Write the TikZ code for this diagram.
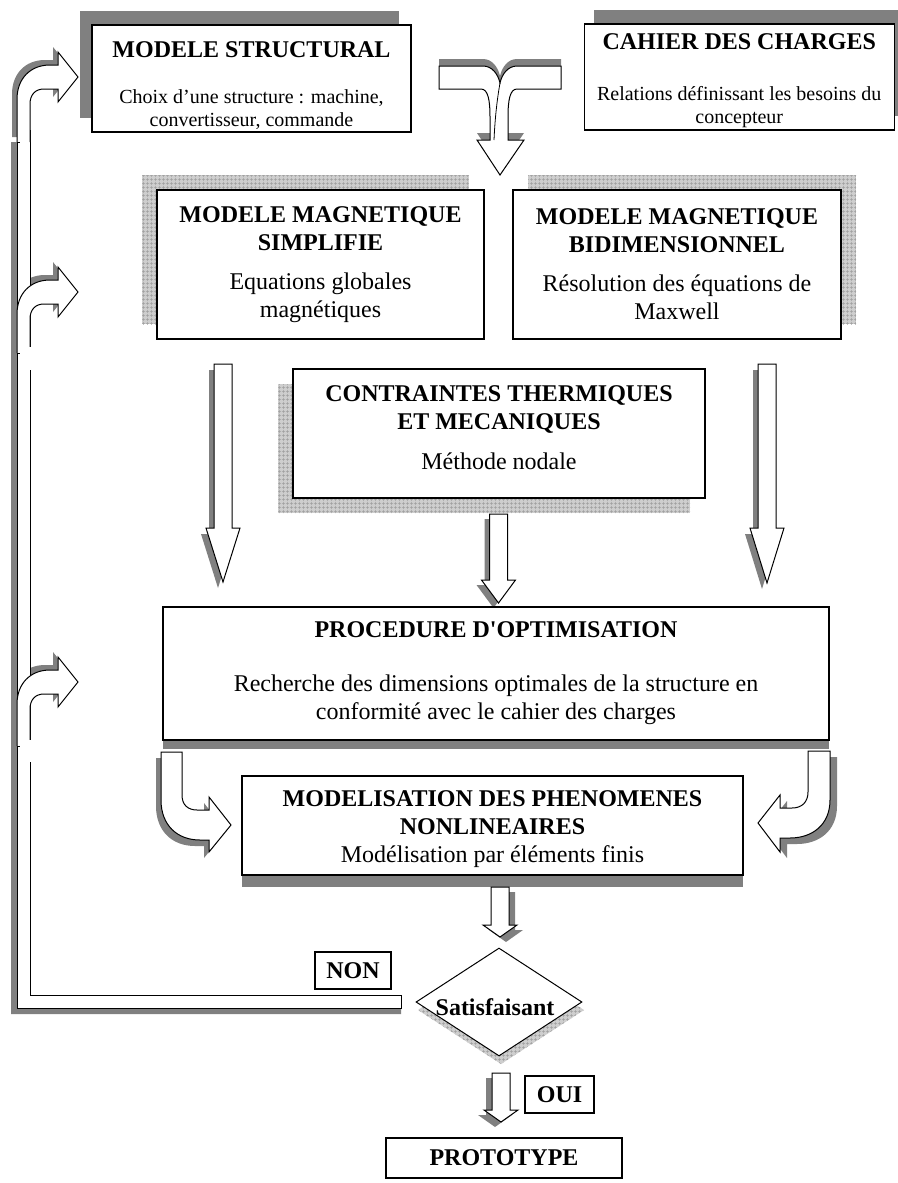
\documentclass[tikz,border=0pt]{standalone}
\usepackage{fontspec}
\setmainfont{Liberation Serif}
\usetikzlibrary{shapes.geometric, patterns.meta}

\definecolor{shdark}{RGB}{128,128,128}
\definecolor{shlight}{RGB}{206,206,206}
\definecolor{shgrid}{RGB}{158,158,158}

\newcommand{\hd}{\fontsize{24}{29}\selectfont\bfseries}
\newcommand{\tx}{\fontsize{24}{28}\selectfont}
\newcommand{\sm}{\fontsize{20}{23}\selectfont}

\tikzset{
  box/.style={draw, line width=1.3pt, fill=white, align=center, inner sep=0pt, font=\tx},
  flag/.style={draw, line width=1.3pt, fill=white, inner sep=0pt, font=\hd},
  darksh/.style={fill=shdark},
  gridsh/.style={fill=shlight, postaction={pattern={Hatch[angle=0,distance=4pt,line width=.5pt]}, pattern color=shgrid}},
  blk/.style={draw, line width=1pt, fill=white},
}

% straight block arrow: x, top, shoulder, tip, shadow shift
\newcommand{\blkdown}[6]{%
  \fill[darksh, shift={(#5,#6)}] (#1-9,#2) -- (#1+9,#2) -- (#1+9,#3) -- (#1+17,#3) -- (#1,#4) -- (#1-17,#3) -- (#1-9,#3) -- cycle;
  \draw[blk] (#1-9,#2) -- (#1+9,#2) -- (#1+9,#3) -- (#1+17,#3) -- (#1,#4) -- (#1-17,#3) -- (#1-9,#3) -- cycle;
}
% bent arrow of the loop: arm centre, bottom
\newcommand{\bentpath}[2]{(17,#2) -- (17,#1+22) .. controls (17,#1+2) and (30,#1-12) .. (50,#1-12) -- (58,#1-12) -- (58,#1-25) -- (78,#1) -- (58,#1+25) -- (58,#1+12) -- (44,#1+12) .. controls (35,#1+12) and (30,#1+18) .. (30,#1+27) -- (30,#2)}
\newcommand{\mergepath}{(439,66) -- (483,66) .. controls (492,66) and (498,74) .. (500,83) .. controls (502,74) and (508,66) .. (517,66) -- (561,66) -- (561,89) -- (517,89) .. controls (510,89) and (508,100) .. (508,117) -- (508,140) -- (524,140) -- (500,175) -- (477,140) -- (490,140) -- (490,117) .. controls (490,100) and (488,89) .. (481,89) -- (439,89) -- cycle}
\newcommand{\leftbend}{(161,752) -- (182,752) -- (182,795) .. controls (182,805) and (188,810) .. (197,810) -- (209,810) -- (209,797) -- (231,825) -- (209,852) -- (209,840) -- (200,840) .. controls (177,840) and (161,825) .. (161,800) -- cycle}
\newcommand{\rightbend}{(808,751) -- (830,751) -- (830,800) .. controls (830,825) and (812,838) .. (790,838) -- (780,838) -- (780,852) -- (758,823) -- (780,795) -- (780,808) -- (792,808) .. controls (802,808) and (808,802) .. (808,792) -- cycle}

\begin{document}
\begin{tikzpicture}[x=1pt, y=-1pt]
  \useasboundingbox (0,0) rectangle (897,1183);

  % top row
  \fill[darksh] (80,11) rectangle (399,118);
  \node[box, font=\sm, minimum width=319pt, minimum height=107pt] (struct) at (251.5,78.5)
    {\rule{0pt}{30pt}{\hd MODELE STRUCTURAL}\\[23pt]Choix d’une structure : machine,\\convertisseur, commande};
  \fill[darksh] (594,10) rectangle (904,116);
  \node[box, font=\sm, minimum width=310pt, minimum height=106pt] (cahier) at (739.25,77)
    {\rule{0pt}{23pt}{\hd CAHIER DES CHARGES}\\[28pt]Relations définissant les besoins du\\concepteur};

  \fill[darksh, shift={(0,-7)}] \mergepath;
  \draw[blk] \mergepath;
  \draw[line width=.8pt] (500,83) .. controls (497,100) and (495,118) .. (494,140);

  % magnetic models
  \fill[gridsh] (142,175) rectangle (469,324);
  \node[box, minimum width=327pt, minimum height=149pt] (simpl) at (320.5,264.5)
    {{\hd MODELE MAGNETIQUE}\\{\hd SIMPLIFIE}\\[11pt]Equations globales\\magnétiques};
  \fill[gridsh] (528,175) rectangle (856,324);
  \node[box, minimum width=328pt, minimum height=149pt] (bidim) at (677,264.5)
    {{\hd MODELE MAGNETIQUE}\\{\hd BIDIMENSIONNEL}\\[11pt]Résolution des équations de\\Maxwell};

  \fill[gridsh] (278,384) rectangle (690,513);
  \node[box, minimum width=412pt, minimum height=129pt] (therm) at (499,433.5)
    {{\hd CONTRAINTES THERMIQUES}\\{\hd ET MECANIQUES}\\[12pt]Méthode nodale\rule[-12pt]{0pt}{1pt}};

  \blkdown{223}{364}{528}{582}{-5}{6}
  \blkdown{767}{364}{528}{583}{-5}{6}
  \blkdown{498.5}{514}{580}{603}{-5}{5}

  % optimisation
  \fill[darksh] (163,616) rectangle (829,749);
  \node[box, minimum width=666pt, minimum height=133pt] (optim) at (496,673.5)
    {{\hd PROCEDURE D\textquotesingle OPTIMISATION}\\[26pt]Recherche des dimensions optimales de la structure en\\conformité avec le cahier des charges};

  \fill[darksh, shift={(-5,6)}] \leftbend;
  \draw[blk] \leftbend;
  \fill[darksh, shift={(7,6)}] \rightbend;
  \draw[blk] \rightbend;

  \fill[darksh] (242,787) rectangle (743,887);
  \node[box, minimum width=501pt, minimum height=99pt] (nonlin) at (492.5,825.5)
    {\rule{0pt}{24pt}{\hd MODELISATION DES PHENOMENES}\\{\hd NONLINEAIRES}\\Modélisation par éléments finis};

  \blkdown{500}{887}{925}{937}{6}{5}

  % decision
  \fill[gridsh, shift={(2,8)}] (499,948) -- (582,1002) -- (499,1056) -- (416,1002) -- cycle;
  \node[draw, diamond, line width=1pt, fill=white, minimum width=166pt, minimum height=108pt, inner sep=0pt] (sat) at (499,1002) {};
  \node[font=\hd, inner sep=0pt] (satlbl) at (495,1007) {Satisfaisant};

  % loop back
  \fill[darksh] (11,142) -- (17,142) -- (17,1008) -- (401,1008) -- (401,1014) -- (11,1014) -- cycle;
  \fill[darksh, shift={(-5,-5)}] \bentpath{77}{142} -- cycle;
  \fill[darksh, shift={(-5,-5)}] \bentpath{292}{353} -- cycle;
  \fill[darksh, shift={(-5,-5)}] \bentpath{682}{746} -- cycle;
  \draw[blk] (17,130) -- (30,130) -- (30,995) -- (401,995) -- (401,1008) -- (17,1008) -- cycle;
  \fill[white] \bentpath{77}{142} -- cycle;
  \draw[line width=1pt] \bentpath{77}{142};
  \fill[white] \bentpath{292}{353} -- cycle;
  \draw[line width=1pt] \bentpath{292}{353};
  \fill[white] \bentpath{682}{746} -- cycle;
  \draw[line width=1pt] \bentpath{682}{746};
  \foreach \yt in {142,353,746} \draw[line width=1pt] (17,\yt) -- (20,\yt);
  \fill[white] (29,347) rectangle (32,370);
  \fill[white] (29,740) rectangle (32,762);

  \node[flag, minimum width=76pt, minimum height=37pt] (non) at (353,970.5) {NON};

  \blkdown{501}{1073}{1110}{1122}{-6}{5}
  \node[flag, minimum width=69pt, minimum height=37pt] (oui) at (559.5,1094.5) {OUI};
  \node[flag, minimum width=236pt, minimum height=40pt] (proto) at (504,1158) {PROTOTYPE};
\end{tikzpicture}
\end{document}
